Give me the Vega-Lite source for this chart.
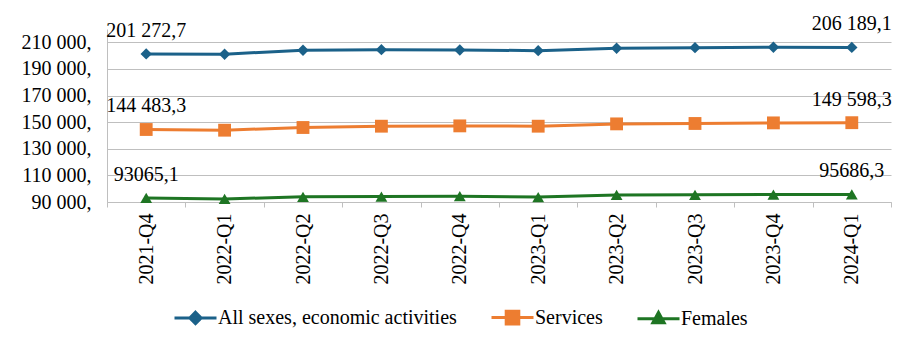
{
  "$schema": "https://vega.github.io/schema/vega-lite/v6.json",
  "autosize": {"type": "none"},
  "width": 784,
  "height": 173,
  "padding": {"left": 107, "top": 29, "right": 24, "bottom": 142},
  "background": "white",
  "config": {
    "font": "Liberation Serif",
    "view": {"stroke": null},
    "axis": {"labelFont": "Liberation Serif", "labelFontSize": 20, "labelColor": "#000000", "domainColor": "#BFBFBF", "tickColor": "#BFBFBF", "gridColor": "#BFBFBF", "title": null},
    "legend": {"labelFont": "Liberation Serif", "labelFontSize": 20}
  },
  "data": {
    "values": [
      {"q": "2021-Q4", "series": "All sexes, economic activities", "value": 201272.7, "label": "201 272,7"},
      {"q": "2022-Q1", "series": "All sexes, economic activities", "value": 201050},
      {"q": "2022-Q2", "series": "All sexes, economic activities", "value": 204050},
      {"q": "2022-Q3", "series": "All sexes, economic activities", "value": 204500},
      {"q": "2022-Q4", "series": "All sexes, economic activities", "value": 204270},
      {"q": "2023-Q1", "series": "All sexes, economic activities", "value": 203750},
      {"q": "2023-Q2", "series": "All sexes, economic activities", "value": 205550},
      {"q": "2023-Q3", "series": "All sexes, economic activities", "value": 206000},
      {"q": "2023-Q4", "series": "All sexes, economic activities", "value": 206250},
      {"q": "2024-Q1", "series": "All sexes, economic activities", "value": 206189.1, "label": "206 189,1"},
      {"q": "2021-Q4", "series": "Services", "value": 144483.3, "label": "144 483,3"},
      {"q": "2022-Q1", "series": "Services", "value": 143960},
      {"q": "2022-Q2", "series": "Services", "value": 145980},
      {"q": "2022-Q3", "series": "Services", "value": 146960},
      {"q": "2022-Q4", "series": "Services", "value": 147200},
      {"q": "2023-Q1", "series": "Services", "value": 146960},
      {"q": "2023-Q2", "series": "Services", "value": 148700},
      {"q": "2023-Q3", "series": "Services", "value": 149000},
      {"q": "2023-Q4", "series": "Services", "value": 149450},
      {"q": "2024-Q1", "series": "Services", "value": 149598.3, "label": "149 598,3"},
      {"q": "2021-Q4", "series": "Females", "value": 93065.1, "label": "93065,1"},
      {"q": "2022-Q1", "series": "Females", "value": 92300},
      {"q": "2022-Q2", "series": "Females", "value": 93900},
      {"q": "2022-Q3", "series": "Females", "value": 94100},
      {"q": "2022-Q4", "series": "Females", "value": 94400},
      {"q": "2023-Q1", "series": "Females", "value": 93700},
      {"q": "2023-Q2", "series": "Females", "value": 95300},
      {"q": "2023-Q3", "series": "Females", "value": 95400},
      {"q": "2023-Q4", "series": "Females", "value": 95600},
      {"q": "2024-Q1", "series": "Females", "value": 95686.3, "label": "95686,3"}
    ]
  },
  "encoding": {
    "x": {
      "field": "q", "type": "ordinal", "sort": null,
      "scale": {"paddingInner": 0, "paddingOuter": 0},
      "axis": {"labelAngle": -90, "tickBand": "extent", "tickSize": 5, "labelPadding": 6, "grid": false, "domainWidth": 1}
    },
    "y": {
      "field": "value", "type": "quantitative",
      "scale": {"domain": [90000, 220000], "nice": false, "zero": false},
      "axis": {"values": [90000, 110000, 130000, 150000, 170000, 190000, 210000], "ticks": false, "labelPadding": 16, "grid": true, "labelExpr": "replace(format(datum.value, ','), ',', ' ') + ','"}
    },
    "color": {
      "field": "series", "type": "nominal", "sort": ["All sexes, economic activities", "Services", "Females"],
      "scale": {"domain": ["All sexes, economic activities", "Services", "Females"], "range": ["#1B6189", "#ED7D31", "#1E7523"]},
      "legend": {
        "orient": "none", "legendX": 66, "legendY": 266, "direction": "horizontal", "title": null,
        "padding": 0, "columnPadding": 28, "labelFont": "Liberation Serif", "labelFontSize": 20, "labelColor": "#000000",
        "labelLimit": 0, "labelOffset": 0, "symbolSize": 1764, "symbolStrokeWidth": 3, "symbolOpacity": 1,
        "encode": {
          "labels": {
            "update": {
              "font": {"value": "Liberation Serif"}
            }
          },
          "symbols": {
            "update": {
              "shape": {"signal": "datum.value === 'Services' ? 'M-1,0H1M-0.3,-0.3H0.3V0.3H-0.3Z' : datum.value === 'Females' ? 'M-1,0H1M0,-0.3L0.27,0.2L-0.27,0.2Z' : 'M-1,0H1M0,-0.27L0.27,0L0,0.27L-0.27,0Z'"},
              "size": {"value": 1764},
              "fill": {"signal": "scale('color', datum.value)"},
              "stroke": {"signal": "scale('color', datum.value)"},
              "strokeWidth": {"value": 3},
              "opacity": {"value": 1}
            }
          }
        }
      }
    }
  },
  "layer": [
    {
      "mark": {"type": "line", "strokeWidth": 3}
    },
    {
      "transform": [{"filter": "datum.series === 'All sexes, economic activities'"}],
      "mark": {"type": "point", "filled": true, "opacity": 1, "shape": "diamond", "size": 130}
    },
    {
      "transform": [{"filter": "datum.series === 'Services'"}],
      "mark": {"type": "point", "filled": true, "opacity": 1, "shape": "square", "size": 165}
    },
    {
      "transform": [{"filter": "datum.series === 'Females'"}],
      "mark": {"type": "point", "filled": true, "opacity": 1, "shape": "triangle-up", "size": 140}
    },
    {
      "transform": [{"filter": "datum.label != null"}],
      "mark": {"type": "text", "font": "Liberation Serif", "fontSize": 20, "align": "center", "baseline": "middle", "dy": -23},
      "encoding": {
        "text": {"field": "label"},
        "color": {"value": "#000000"}
      }
    }
  ]
}
